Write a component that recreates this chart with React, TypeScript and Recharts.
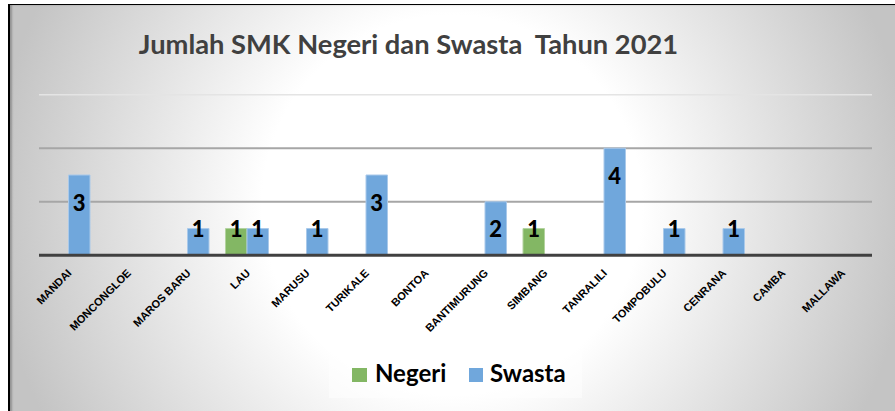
import React from 'react';
import {
  BarChart,
  Bar,
  XAxis,
  YAxis,
  CartesianGrid,
  ReferenceLine,
  LabelList,
  Legend,
} from 'recharts';

const kecamatan = [
  'MANDAI',
  'MONCONGLOE',
  'MAROS BARU',
  'LAU',
  'MARUSU',
  'TURIKALE',
  'BONTOA',
  'BANTIMURUNG',
  'SIMBANG',
  'TANRALILI',
  'TOMPOBULU',
  'CENRANA',
  'CAMBA',
  'MALLAWA',
];
const negeri = [null, null, null, 1, null, null, null, null, 1, null, null, null, null, null];
const swasta = [3, null, 1, 1, 1, 3, null, 2, null, 4, 1, 1, null, null];
const yTicks = [0, 2, 4, 6];

const data = kecamatan.map((name, i) => ({ name, Negeri: negeri[i], Swasta: swasta[i] }));

const BLUE = '#70a7dc';
const GREEN = '#83b764';

// rotated category labels, right end sits just under the category centre
const CategoryTick = (props: any) => {
  const { x, y, payload } = props;
  const ax = x + 3.5;
  const ay = y + 10.5;
  return (
    <text
      x={ax}
      y={ay}
      transform={`rotate(-45 ${ax} ${ay})`}
      textAnchor="end"
      fontFamily="'Liberation Sans', Arial, sans-serif"
      fontWeight={700}
      fontSize={11}
      fill="#000"
    >
      {payload.value}
    </text>
  );
};

// Excel-like "inside end" label, kept off the axis for short bars
const ValueLabel = (props: any) => {
  const { x, y, width, height, value } = props;
  if (value == null) return null;
  const base = Math.min(y + 36, y + height - 18);
  return (
    <text
      x={x + width / 2}
      y={base}
      textAnchor="middle"
      fontFamily="Lato, sans-serif"
      fontWeight={900}
      fontSize={22}
      fill="#000"
    >
      {value}
    </text>
  );
};

const LegendBox = () => (
  <div
    style={{
      position: 'relative',
      width: 253,
      height: 48,
      background: 'rgba(255,255,255,0.45)',
      fontFamily: 'Lato, sans-serif',
      fontWeight: 700,
      fontSize: 24,
      color: '#000',
    }}
  >
    <div style={{ position: 'absolute', left: 23, top: 18, width: 15, height: 14, background: GREEN }} />
    <div style={{ position: 'absolute', left: 46, top: 8, lineHeight: '29px' }}>Negeri</div>
    <div style={{ position: 'absolute', left: 140, top: 18, width: 14, height: 14, background: BLUE }} />
    <div style={{ position: 'absolute', left: 161, top: 8, lineHeight: '29px' }}>Swasta</div>
  </div>
);

export default function App() {
  return (
    <div
      style={{
        position: 'absolute',
        left: 0,
        top: 0,
        width: 895,
        height: 411,
        overflow: 'hidden',
        background: '#fff',
      }}
    >
      <div
        style={{
          position: 'absolute',
          left: 8,
          top: 4,
          width: 900,
          height: 420,
          borderLeft: '2px solid #000',
          borderTop: '1px solid #000',
          boxShadow: 'inset 2px 0 2px rgba(0,0,0,0.25)',
          background: 'radial-gradient(circle at 442px 200px, #ffffff 190px, #c4c4c4 460px)',
        }}
      />
      <div style={{ position: 'absolute', left: 0, top: 0 }}>
        <BarChart
          width={895}
          height={411}
          data={data}
          margin={{ top: 94.7, right: 23, left: 39, bottom: 95.7 }}
          barSize={21.5}
          barGap={0}
        >
          <text
            x={408.5}
            y={54}
            textAnchor="middle"
            fontFamily="Lato, sans-serif"
            fontWeight={700}
            fontSize={27.3}
            fill="#404040"
            style={{ whiteSpace: 'pre' }}
          >
            {'Jumlah SMK Negeri dan Swasta  Tahun 2021'}
          </text>
          <CartesianGrid vertical={false} stroke="#a6a6a6" strokeWidth={2} horizontalValues={[2, 4]} />
          <ReferenceLine y={6} stroke="#e4e4e4" strokeWidth={1.5} />
          <YAxis hide domain={[0, 6]} ticks={yTicks} />
          <XAxis
            dataKey="name"
            interval={0}
            height={60}
            tickLine={false}
            axisLine={{ stroke: '#404040', strokeWidth: 3 }}
            tick={<CategoryTick />}
          />
          <Legend
            layout="horizontal"
            verticalAlign="middle"
            align="center"
            content={() => <LegendBox />}
            wrapperStyle={{ position: 'absolute', left: 329, top: 350, width: 253, height: 48 }}
          />
          <Bar dataKey="Negeri" fill={GREEN} stroke="#b3d39f" strokeWidth={1} isAnimationActive={false}>
            <LabelList dataKey="Negeri" content={<ValueLabel />} />
          </Bar>
          <Bar dataKey="Swasta" fill={BLUE} stroke="#a9c9ea" strokeWidth={1} isAnimationActive={false}>
            <LabelList dataKey="Swasta" content={<ValueLabel />} />
          </Bar>
        </BarChart>
      </div>
    </div>
  );
}
